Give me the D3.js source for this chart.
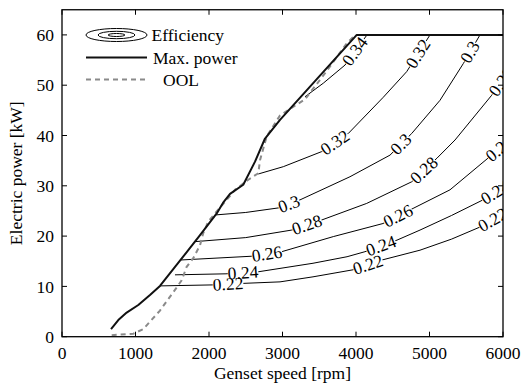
<!DOCTYPE html>
<html><head><meta charset="utf-8">
<script src="https://cdn.jsdelivr.net/npm/d3@7"></script>
<style>
body{margin:0;background:#fff}
svg{display:block}
text{font-family:"Liberation Serif","Times New Roman",serif;fill:#000}
</style>
</head><body><svg id="c" width="523" height="385"></svg>
<script>
// ---- data ----
const xTicks = [0, 1000, 2000, 3000, 4000, 5000, 6000];
const yTicks = [0, 10, 20, 30, 40, 50, 60];

const maxPowerRpm = [667, 766, 880, 1038, 1197, 1333, 1605, 1878, 2105, 2190, 2286, 2466, 2626, 2762, 2966, 4010, 6000];
const maxPowerKw  = [1.5, 3.3, 4.8, 6.3, 8.3, 10.1, 15.1, 20.2, 24.5, 26.6, 28.4, 30.2, 34.8, 39.4, 43.1, 60, 60];

const oolRpm = [676, 970, 1106, 1333, 1537, 1628, 1696, 1786, 1878, 1922, 1990, 2105, 2240, 2354, 2535, 2671, 2694, 2785, 2966, 3306, 3601, 3873, 3990];
const oolKw  = [0.3, 0.6, 1.5, 5.2, 9.3, 11.2, 13.9, 15.6, 18.2, 20.6, 22.9, 24.9, 27.2, 29.2, 31.2, 32.5, 35.1, 39.8, 44.0, 47.2, 52.8, 58.3, 60];

const effLevels = [0.22, 0.24, 0.26, 0.28, 0.3, 0.32, 0.34];

const eff022Rpm = [1333, 2054, 2463, 2966, 3415, 3959, 4367, 4871, 5300, 5687, 6000];
const eff022Kw  = [10.1, 10.3, 10.6, 10.9, 11.9, 13.3, 15.3, 17.2, 19.4, 21.8, 24.4];
const eff024Rpm = [1537, 2231, 2667, 3415, 3878, 4122, 4558, 4871, 5300, 5728, 6000];
const eff024Kw  = [12.3, 12.5, 12.9, 14.6, 15.9, 16.9, 19.2, 21.2, 24.1, 27.2, 29.6];
const eff026Rpm = [1615, 2581, 2989, 3691, 4367, 4776, 5279, 5796, 6000];
const eff026Kw  = [15.25, 16.0, 16.9, 19.9, 22.5, 25.5, 29.2, 35.5, 37.9];
const eff028Rpm = [1810, 2500, 3125, 3533, 4146, 4758, 5102, 5347, 5846, 6000];
const eff028Kw  = [18.9, 19.7, 21.2, 23.2, 26.5, 30.8, 35.5, 39.1, 48.0, 51.0];
const eff030Rpm = [2082, 2500, 2943, 3238, 3918, 4463, 4758, 5143, 5460, 5687];
const eff030Kw  = [24.2, 24.7, 25.6, 27.2, 31.8, 36.1, 40.4, 47.0, 54.3, 60.0];
const eff032Rpm = [2671, 3011, 3533, 3895, 4371, 4690, 5007];
const eff032Kw  = [32.35, 33.8, 36.8, 40.4, 47.6, 52.7, 60.0];
const eff034Rpm = [3306, 3555, 3850, 4150];
const eff034Kw  = [47.7, 50.4, 54.0, 60.0];

// label positions along each contour (rpm)
const eff022LabelRpm = [2259, 4163, 5860];
const eff024LabelRpm = [2463, 4340, 5895];
const eff026LabelRpm = [2789, 4571, 5955];
const eff028LabelRpm = [3333, 4925, 5980];
const eff030LabelRpm = [3088, 4612, 5551];
const eff032LabelRpm = [3714, 4844];
const eff034LabelRpm = [3986];

const legendLabels = ["Efficiency", "Max. power", "OOL"];

// ---- layout ----
const svg = d3.select("#c");
const L = 62, R = 503, T = 9.75, B = 336.7;
const x = d3.scaleLinear().domain([0, 6000]).range([L, R]);
const y = d3.scaleLinear().domain([0, 65]).range([B, T]);
const FS = 17.5;

svg.append("defs").append("clipPath").attr("id", "plot")
  .append("rect").attr("x", L).attr("y", T).attr("width", R - L).attr("height", B - T);

const zip = (a, b) => a.map((v, i) => [v, b[i]]);
const line = d3.line().x(d => x(d[0])).y(d => y(d[1]));

const contours = [
  {lvl: effLevels[0], pts: zip(eff022Rpm, eff022Kw), labs: eff022LabelRpm},
  {lvl: effLevels[1], pts: zip(eff024Rpm, eff024Kw), labs: eff024LabelRpm},
  {lvl: effLevels[2], pts: zip(eff026Rpm, eff026Kw), labs: eff026LabelRpm},
  {lvl: effLevels[3], pts: zip(eff028Rpm, eff028Kw), labs: eff028LabelRpm},
  {lvl: effLevels[4], pts: zip(eff030Rpm, eff030Kw), labs: eff030LabelRpm},
  {lvl: effLevels[5], pts: zip(eff032Rpm, eff032Kw), labs: eff032LabelRpm},
  {lvl: effLevels[6], pts: zip(eff034Rpm, eff034Kw), labs: eff034LabelRpm}
];

const plot = svg.append("g").attr("clip-path", "url(#plot)");

// contour lines
contours.forEach(c => {
  plot.append("path").attr("d", line(c.pts))
    .attr("fill", "none").attr("stroke", "#000").attr("stroke-width", 1);
});

function yAtPx(pts, px) {
  const P = pts.map(d => [x(d[0]), y(d[1])]);
  if (px <= P[0][0]) return P[0][1];
  for (let i = 1; i < P.length; i++) {
    if (px <= P[i][0]) {
      const t = (px - P[i-1][0]) / (P[i][0] - P[i-1][0]);
      return P[i-1][1] + t * (P[i][1] - P[i-1][1]);
    }
  }
  const n = P.length;
  const t = (px - P[n-2][0]) / (P[n-1][0] - P[n-2][0]);
  return P[n-2][1] + t * (P[n-1][1] - P[n-2][1]);
}

// contour labels
contours.forEach(c => {
  c.labs.forEach(r => {
    const px = x(r), py = yAtPx(c.pts, px);
    const d = 6;
    const ang = Math.atan2(yAtPx(c.pts, px + d) - yAtPx(c.pts, px - d), 2 * d) * 180 / Math.PI;
    const g = plot.append("g").attr("transform", `translate(${px},${py}) rotate(${ang})`);
    const bg = g.append("rect").attr("fill", "#fff");
    const t = g.append("text").attr("text-anchor", "middle").attr("dy", "0.33em")
      .attr("font-size", FS).text(String(c.lvl));
    const w = t.node().getComputedTextLength();
    bg.attr("x", -w / 2).attr("y", -4.5).attr("width", w).attr("height", 9);
  });
});

// OOL
plot.append("path").attr("d", line(zip(oolRpm, oolKw)))
  .attr("fill", "none").attr("stroke", "#8a8a8a").attr("stroke-width", 2)
  .attr("stroke-dasharray", "5,4");

// max power
plot.append("path").attr("d", line(zip(maxPowerRpm, maxPowerKw)))
  .attr("fill", "none").attr("stroke", "#111").attr("stroke-width", 2)
  .attr("stroke-linejoin", "round");

// axes
const ax = svg.append("g");
ax.append("rect").attr("x", L).attr("y", T).attr("width", R - L).attr("height", B - T)
  .attr("fill", "none").attr("stroke", "#000").attr("stroke-width", 1.3);
const tl = 5;
xTicks.forEach(v => {
  ax.append("line").attr("x1", x(v)).attr("x2", x(v)).attr("y1", B).attr("y2", B - tl).attr("stroke", "#000");
  ax.append("line").attr("x1", x(v)).attr("x2", x(v)).attr("y1", T).attr("y2", T + tl).attr("stroke", "#000");
  ax.append("text").attr("x", x(v)).attr("y", 359).attr("text-anchor", "middle")
    .attr("font-size", FS).text(v);
});
yTicks.forEach(v => {
  ax.append("line").attr("x1", L).attr("x2", L + tl).attr("y1", y(v)).attr("y2", y(v)).attr("stroke", "#000");
  ax.append("line").attr("x1", R).attr("x2", R - tl).attr("y1", y(v)).attr("y2", y(v)).attr("stroke", "#000");
  ax.append("text").attr("x", 54).attr("y", y(v) + 6.2).attr("text-anchor", "end")
    .attr("font-size", FS).text(v);
});
ax.append("text").attr("x", (L + R) / 2).attr("y", 379).attr("text-anchor", "middle")
  .attr("font-size", FS).text("Genset speed [rpm]");
ax.append("text").attr("transform", `translate(22,${(T + B) / 2}) rotate(-90)`)
  .attr("text-anchor", "middle").attr("font-size", FS).text("Electric power [kW]");

// legend
const lg = svg.append("g");
const lx0 = 86, lx1 = 147, lcx = (lx0 + lx1) / 2;
[[30.5, 6.5], [18.5, 3.7], [8.5, 1.5]].forEach(e => {
  lg.append("ellipse").attr("cx", lcx).attr("cy", 35).attr("rx", e[0]).attr("ry", e[1])
    .attr("fill", "none").attr("stroke", "#000").attr("stroke-width", 1);
});
lg.append("line").attr("x1", lx0).attr("x2", lx1).attr("y1", 57.5).attr("y2", 57.5)
  .attr("stroke", "#111").attr("stroke-width", 2);
lg.append("line").attr("x1", lx0).attr("x2", lx1).attr("y1", 79.5).attr("y2", 79.5)
  .attr("stroke", "#8a8a8a").attr("stroke-width", 2).attr("stroke-dasharray", "5,4");
const lgX = [151.5, 153, 163], lgY = [35, 57.5, 79.5];
legendLabels.forEach((s, i) => {
  lg.append("text").attr("x", lgX[i]).attr("y", lgY[i] + 6).attr("font-size", FS).text(s);
});
</script>
</body></html>
